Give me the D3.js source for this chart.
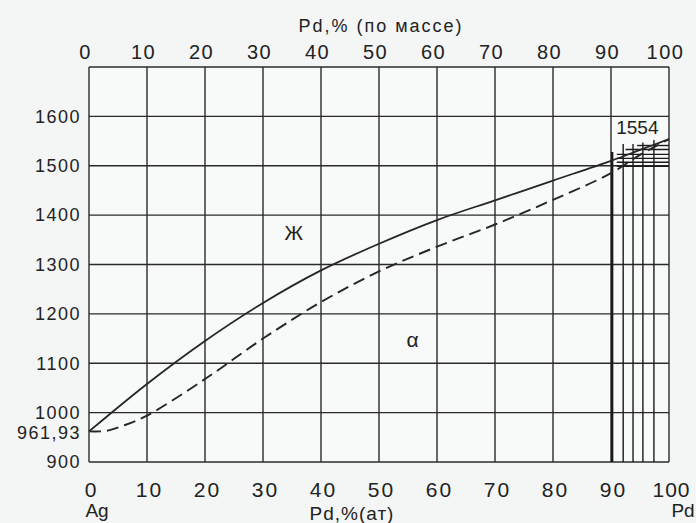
<!DOCTYPE html>
<html>
<head>
<meta charset="utf-8">
<script src="https://cdn.jsdelivr.net/npm/d3@7"></script>
<style>
  html, body { margin: 0; padding: 0; background: #f4f5f5; }
  #chart { width: 696px; height: 523px; }
  text { font-family: "Liberation Sans", Arial, sans-serif; fill: #222; }
</style>
</head>
<body>
<div id="chart"></div>
<script>
// ---------------------------- DATA ----------------------------//
const pdTicks = [0, 10, 20, 30, 40, 50, 60, 70, 80, 90, 100];
const tempTicks = [900, 1000, 1100, 1200, 1300, 1400, 1500, 1600];
const tempGrid = [900, 1000, 1100, 1200, 1300, 1400, 1500, 1600, 1700];

// liquidus (solid line)
const liquidusPd = [0, 10, 20, 30, 40, 50, 60, 70, 80, 90, 95, 100];
const liquidusT = [961.93, 1058, 1145, 1222, 1288, 1342, 1390, 1430, 1470, 1510, 1532, 1554];

// solidus (dashed line)
const solidusPd = [0, 3, 6, 10, 20, 30, 40, 50, 60, 70, 80, 90, 95, 100];
const solidusT = [961.93, 963, 974, 994, 1068, 1150, 1224, 1286, 1336, 1381, 1431, 1485, 1522, 1554];

// hatch lines near pure Pd
const hatchVx = [90.2, 92.1, 93.8, 95.5, 97.4];
const hatchVtop = [1528, 1544, 1544, 1547, 1552];
const hatchHt = [1541, 1533, 1523, 1515, 1507, 1499];
const hatchHx0 = [94.5, 92.5, 91, 91, 91, 91];

const agMelt = 961.93;
const pdMelt = 1554;

function drawChart() {
    const W = 696, H = 523;
    const left = 89, right = 669, top = 67, bottom = 462;

    d3.selectAll("svg").remove();
    const svg = d3.select("#chart").append("svg")
        .attr("width", W)
        .attr("height", H);

    //----------------------------SCALES----------------------------//
    const x = d3.scaleLinear().domain([0, 100]).range([left, right]);
    const y = d3.scaleLinear().domain([900, 1700]).range([bottom, top]);

    //-----------------------------GRID-----------------------------//
    svg.append("rect")
        .attr("x", left).attr("y", top)
        .attr("width", right - left).attr("height", bottom - top)
        .attr("fill", "#f8f9f9");

    const grid = svg.append("g").attr("stroke", "#2b2b2b").attr("stroke-width", 1.4);
    grid.selectAll("line.v").data(pdTicks).enter().append("line")
        .attr("x1", d => x(d)).attr("x2", d => x(d))
        .attr("y1", top).attr("y2", bottom);
    grid.selectAll("line.h").data(tempGrid).enter().append("line")
        .attr("x1", left).attr("x2", right)
        .attr("y1", d => y(d)).attr("y2", d => y(d));

    //-----------------------------AXES-----------------------------//
    // top axis: weight %
    const xTop = d3.axisTop(x).tickValues(pdTicks).tickSize(0).tickPadding(8);
    svg.append("g")
        .attr("transform", "translate(-4," + top + ")")
        .call(xTop)
        .call(g => g.select(".domain").remove())
        .selectAll("text")
            .style("font-size", "20px")
            .style("letter-spacing", "1.5px")
            .attr("fill", "#222");

    // bottom axis: atomic %
    const xBot = d3.axisBottom(x).tickValues(pdTicks).tickSize(0).tickPadding(20);
    svg.append("g")
        .attr("transform", "translate(2," + bottom + ")")
        .call(xBot)
        .call(g => g.select(".domain").remove())
        .selectAll("text")
            .style("font-size", "21px")
            .style("letter-spacing", d => d === 100 ? "1px" : "2px")
            .attr("fill", "#222");

    // left axis: temperature
    const yAxis = d3.axisLeft(y).tickValues(tempTicks).tickSize(0).tickPadding(8)
        .tickFormat(d3.format("d"));
    svg.append("g")
        .attr("transform", "translate(" + left + ",0)")
        .call(yAxis)
        .call(g => g.select(".domain").remove())
        .selectAll("text")
            .style("font-size", "18px")
            .style("letter-spacing", "1.5px")
            .attr("fill", "#222");

    svg.append("text")
        .attr("x", left - 8).attr("y", y(agMelt))
        .attr("dy", "0.4em")
        .attr("text-anchor", "end")
        .style("font-size", "18px")
        .style("letter-spacing", "1.5px")
        .text("961,93");

    //----------------------------HATCH-----------------------------//
    const hatch = svg.append("g").attr("stroke", "#1a1a1a").attr("stroke-width", 1.4);
    hatch.selectAll("line.hv").data(hatchVx).enter().append("line")
        .attr("x1", d => x(d)).attr("x2", d => x(d))
        .attr("y1", (d, i) => y(hatchVtop[i]))
        .attr("y2", bottom)
        .attr("stroke-width", (d, i) => i === 0 ? 2.4 : 1.4);
    hatch.selectAll("line.hh").data(hatchHt).enter().append("line")
        .attr("x1", (d, i) => x(hatchHx0[i])).attr("x2", right)
        .attr("y1", d => y(d)).attr("y2", d => y(d));

    //----------------------------LINES-----------------------------//
    const line = d3.line()
        .x(d => x(d[0]))
        .y(d => y(d[1]))
        .curve(d3.curveCatmullRom);

    svg.append("path")
        .attr("d", line(d3.zip(liquidusPd, liquidusT)))
        .attr("fill", "none")
        .attr("stroke", "#262626")
        .attr("stroke-width", 1.8);

    svg.append("path")
        .attr("d", line(d3.zip(solidusPd, solidusT)))
        .attr("fill", "none")
        .attr("stroke", "#262626")
        .attr("stroke-width", 1.9)
        .attr("stroke-dasharray", "12,6");

    //-----------------------------LABELS---------------------------//
    svg.append("rect")
        .attr("x", x(90.8)).attr("y", y(pdMelt) - 22)
        .attr("width", 46).attr("height", 19)
        .attr("fill", "#f8f9f9");
    svg.append("text")
        .attr("x", x(90.9)).attr("y", y(pdMelt) + 1)
        .attr("dy", "-0.3em")
        .style("font-size", "19px")
        .text(pdMelt);

    svg.append("text")
        .attr("x", x(35.3)).attr("y", y(1350))
        .attr("text-anchor", "middle")
        .style("font-size", "20px")
        .text("Ж");

    svg.append("text")
        .attr("x", x(55.8)).attr("y", y(1133))
        .attr("text-anchor", "middle")
        .style("font-size", "21px")
        .text("α");

    svg.append("text")
        .attr("x", 381).attr("y", 32)
        .attr("text-anchor", "middle")
        .style("font-size", "18px")
        .style("letter-spacing", "2px")
        .text("Pd,% (по массе)");

    svg.append("text")
        .attr("x", 352).attr("y", 520)
        .attr("text-anchor", "middle")
        .style("font-size", "19px")
        .style("letter-spacing", "1px")
        .text("Pd,%(ат)");

    svg.append("text")
        .attr("x", 97).attr("y", 517)
        .attr("text-anchor", "middle")
        .style("font-size", "19px")
        .text("Ag");

    svg.append("text")
        .attr("x", 683).attr("y", 517)
        .attr("text-anchor", "middle")
        .style("font-size", "19px")
        .text("Pd");
}

drawChart();
</script>
</body>
</html>
